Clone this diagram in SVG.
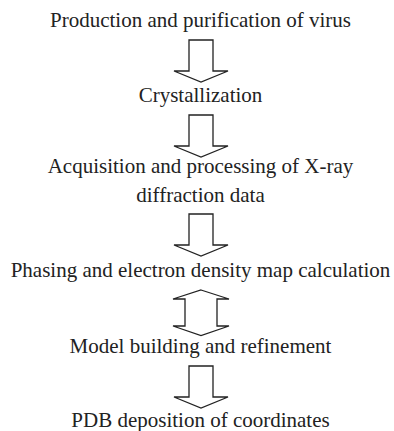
<svg xmlns="http://www.w3.org/2000/svg" width="394" height="431" viewBox="0 0 394 431">
  <style>
    .label { font-size: 21px; fill: #222; text-anchor: middle; }
    .arrow { fill: #fff; stroke: #222; stroke-width: 1.3; stroke-linejoin: miter; }
  </style>
  <rect width="394" height="431" fill="#fff"/>

  <g id="step-production" font-family="'Liberation Serif', serif"><text class="label" x="200.5" y="27">Production and purification of virus</text></g>
  <g id="step-crystallization" font-family="'Liberation Serif', serif"><text class="label" x="200.5" y="102">Crystallization</text></g>
  <g id="step-acquisition" font-family="'Liberation Serif', serif">
    <text class="label" x="200.5" y="173">Acquisition and processing of X-ray</text>
    <text class="label" x="200.5" y="202">diffraction data</text>
  </g>
  <g id="step-phasing" font-family="'Liberation Serif', serif"><text class="label" x="200.5" y="277">Phasing and electron density map calculation</text></g>
  <g id="step-model" font-family="'Liberation Serif', serif"><text class="label" x="200.5" y="353">Model building and refinement</text></g>
  <g id="step-deposition" font-family="'Liberation Serif', serif"><text class="label" x="200.5" y="427">PDB deposition of coordinates</text></g>

  <!-- block arrows: four one-way, one two-way -->
  <g id="connectors">
    <path class="arrow" d="M189,40 H213 V71 H228 L201,82 L174,71 H189 Z"/>
    <path class="arrow" d="M189,115 H213 V146 H228 L201,157 L174,146 H189 Z"/>
    <path class="arrow" d="M189,214 H213 V245 H228 L201,256 L174,245 H189 Z"/>
    <path class="arrow" d="M201,290 L229,299 H217 V326 H229 L201,335.5 L173,326 H185 V299 H173 Z"/>
    <path class="arrow" d="M189,366 H213 V397 H228 L201,408 L174,397 H189 Z"/>
  </g>
</svg>
